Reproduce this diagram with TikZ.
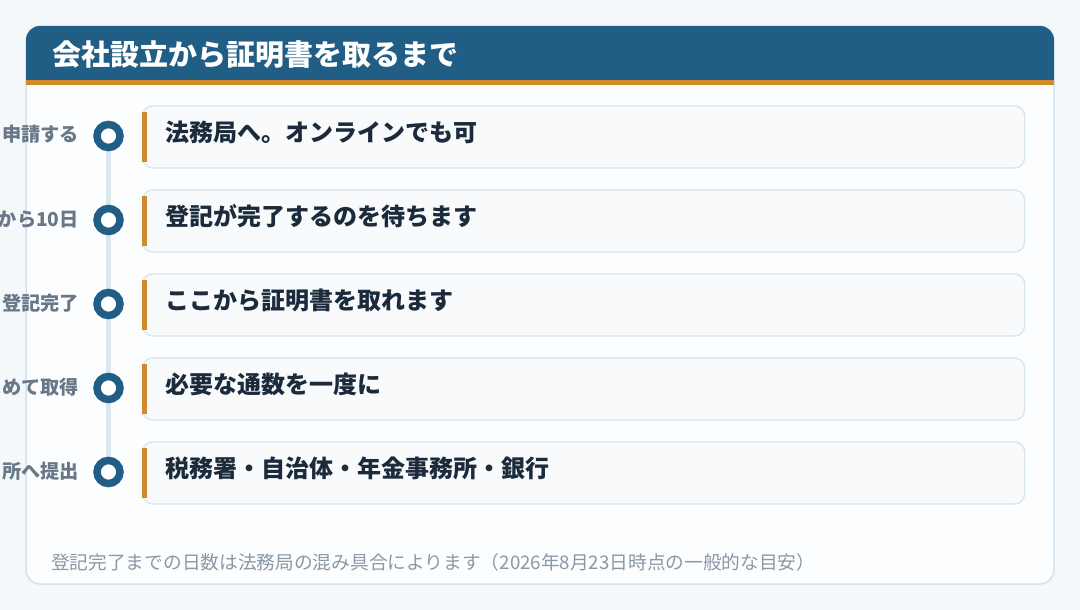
\documentclass[tikz,border=0pt]{standalone}
\usepackage{fontspec}
\setmainfont{Noto Sans CJK JP}
\definecolor{hdrblue}{HTML}{215E85}
\definecolor{accent}{HTML}{D08A2C}
\definecolor{pagebg}{HTML}{F5F8FA}
\definecolor{cardbg}{HTML}{FCFDFE}
\definecolor{cardline}{HTML}{D3E2EC}
\definecolor{boxbg}{HTML}{F8FAFC}
\definecolor{boxline}{HTML}{D6E4EE}
\definecolor{spinecol}{HTML}{DCE8F0}
\definecolor{labelgray}{HTML}{687888}
\definecolor{textdark}{HTML}{1B2B3B}
\definecolor{notegray}{HTML}{8A98A6}
\pgfdeclarelayer{back}
\pgfdeclarelayer{spinel}
\pgfsetlayers{back,spinel,main}
\tikzset{
  cardbox/.style={draw=cardline, line width=1.5pt, fill=cardbg, rounded corners=14pt,
    minimum width=1028pt, minimum height=558pt, inner sep=0pt},
  rowbox/.style={draw=boxline, line width=1.2pt, fill=boxbg, rounded corners=10pt,
    minimum width=882pt, minimum height=62pt, inner sep=0pt},
  accentbar/.style={fill=accent, minimum width=5pt, minimum height=50pt, inner sep=0pt},
  rowtext/.style={text=textdark, font=\fontsize{24}{28}\selectfont\bfseries, inner sep=0pt},
  steplabel/.style={text=labelgray, font=\fontsize{19.2}{23}\selectfont\bfseries, inner sep=0pt},
  dotring/.style={circle, draw=hdrblue, line width=7.5pt, fill=white, minimum size=23pt, inner sep=0pt},
  spineline/.style={draw=spinecol, line width=5pt},
  titletext/.style={text=white, font=\fontsize{29}{34}\selectfont\bfseries, inner sep=0pt},
  notetext/.style={text=notegray, font=\fontsize{18.7}{22}\selectfont, inner sep=0pt}
}
\begin{document}
\begin{tikzpicture}[x=1pt,y=-1pt]
\useasboundingbox (0,0) rectangle (1080,610);
\begin{pgfonlayer}{back}
  \fill[pagebg] (0,0) rectangle (1080,610);
  \node[cardbox] (card) at (540,305) {};
  \begin{scope}
    \clip[rounded corners=14pt] (26,26) rectangle (1054,584);
    \fill[hdrblue] (26,26) rectangle (1054,80);
    \fill[accent] (26,80) rectangle (1054,85);
  \end{scope}
\end{pgfonlayer}
\node[titletext, anchor=base west] (title) at (52,66) {会社設立から証明書を取るまで};
\foreach \i/\lab/\txt in {
  1/申請する/法務局へ。オンラインでも可,
  2/から10日/登記が完了するのを待ちます,
  3/登記完了/ここから証明書を取れます,
  4/めて取得/必要な通数を一度に,
  5/所へ提出/税務署・自治体・年金事務所・銀行}{
  \pgfmathsetmacro\yy{137+84*(\i-1)}
  \node[rowbox, anchor=west] (b\i) at (142,\yy) {};
  \node[accentbar, anchor=west] (a\i) at (142,\yy) {};
  \node[rowtext, anchor=base west] (t\i) at (165,\yy+4.6) {\txt};
  \node[dotring] (c\i) at (108.5,\yy-1) {};
  \node[steplabel, anchor=base east] (l\i) at (79,\yy+5) {\lab};
}
\begin{pgfonlayer}{spinel}
  \draw[spineline] (c1.center) -- (c5.center);
\end{pgfonlayer}
\node[notetext, anchor=base west] (note) at (51,569.5) {登記完了までの日数は法務局の混み具合によります（2026年8月23日時点の一般的な目安）};
\end{tikzpicture}
\end{document}
